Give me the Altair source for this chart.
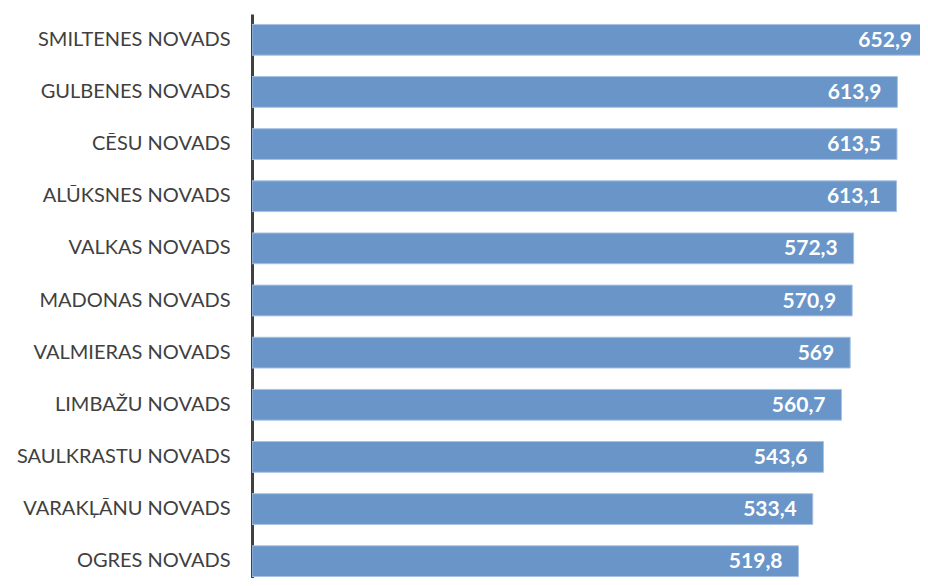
import altair as alt
import pandas as pd

regions = ["SMILTENES NOVADS", "GULBENES NOVADS", "CĒSU NOVADS", "ALŪKSNES NOVADS",
           "VALKAS NOVADS", "MADONAS NOVADS", "VALMIERAS NOVADS", "LIMBAŽU NOVADS",
           "SAULKRASTU NOVADS", "VARAKĻĀNU NOVADS", "OGRES NOVADS"]
values = [652.9, 613.9, 613.5, 613.1, 572.3, 570.9, 569, 560.7, 543.6, 533.4, 519.8]

df = pd.DataFrame({"region": regions, "value": values})

XMAX = 643

base = alt.Chart(df).transform_calculate(
    label="replace(toString(datum.value), '.', ',')",
    lx=f"min(datum.value, {XMAX})",
)

y = alt.Y("region:N", sort=regions, title=None,
          scale=alt.Scale(paddingInner=0.41, paddingOuter=0.2),
          axis=alt.Axis(domainColor="#404040", domainWidth=3, ticks=False,
                        labelFont="Lato", labelFontSize=20, labelColor="#404040",
                        labelPadding=22, labelLimit=400))
x = alt.X("value:Q", title=None, scale=alt.Scale(domain=[0, XMAX], nice=False, zero=True),
          axis=None)

bars = base.mark_bar(color="#6995C8", stroke="#A9C2E2", strokeWidth=1, clip=True).encode(x=x, y=y)
text = base.mark_text(align="right", dx=-16, font="Lato", fontSize=21, fontWeight="bold",
                      color="white", baseline="middle", dy=1).encode(
    x=alt.X("lx:Q"), y=alt.Y("region:N", sort=regions), text="label:N")

chart = (bars + text).properties(
    width=676, height=573,
    autosize=alt.AutoSizeParams(type="none"),
    padding={"left": 244, "top": 6, "right": -8, "bottom": -9},
).configure_view(stroke=None)

chart.save("out.html", embed_options={"renderer": "svg", "actions": False})
